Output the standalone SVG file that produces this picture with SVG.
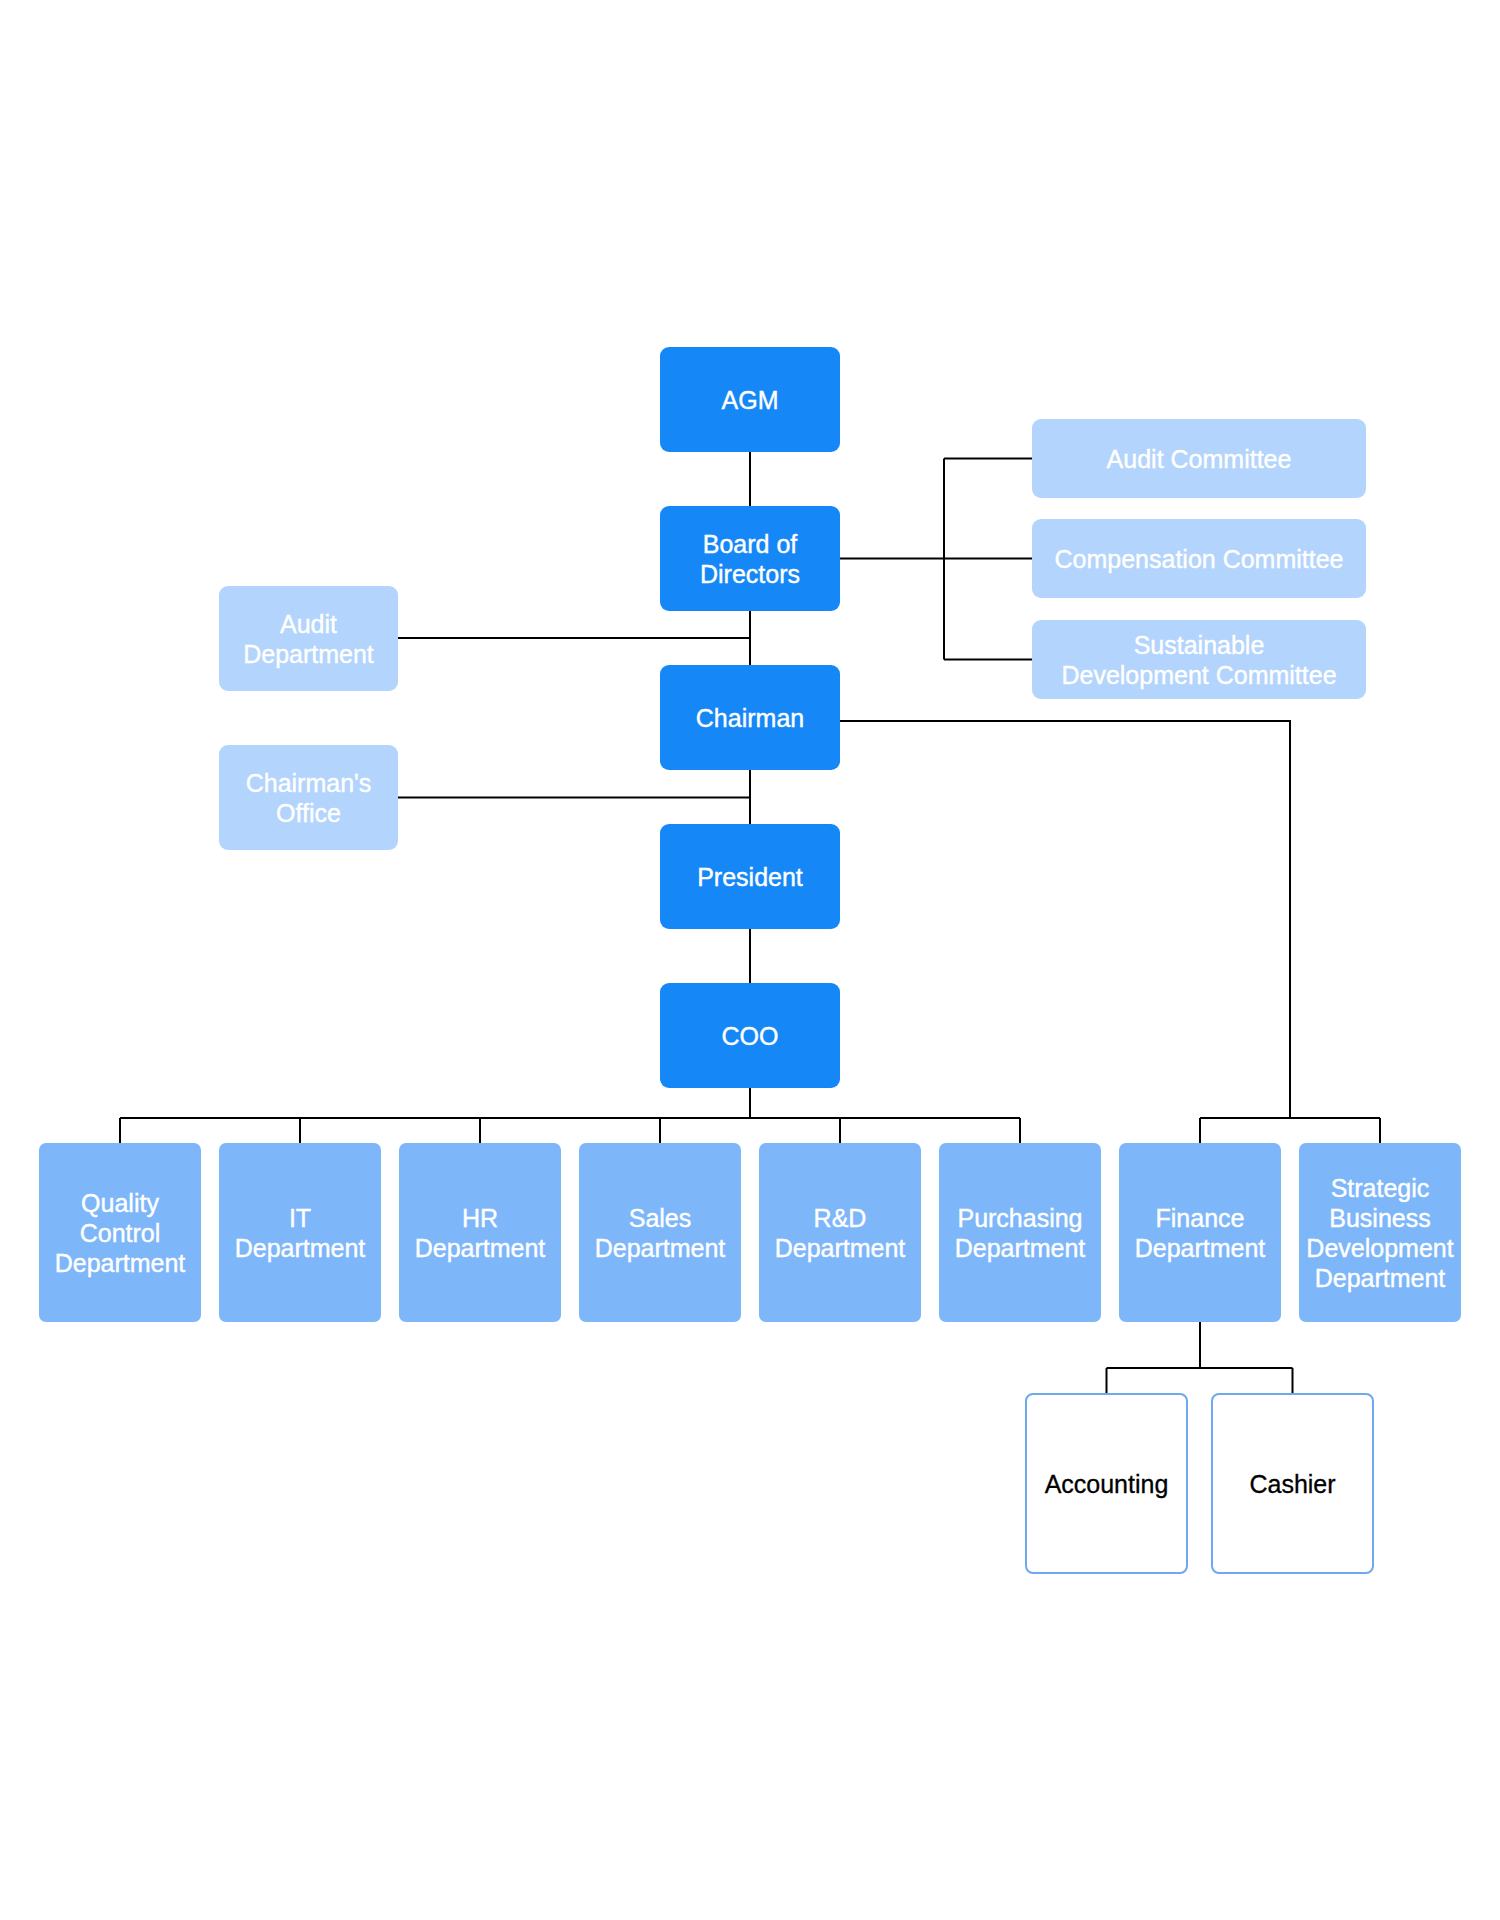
<svg xmlns="http://www.w3.org/2000/svg" width="1500" height="1920" viewBox="0 0 1500 1920">
<style>
text{font-family:"Liberation Sans",Arial,Helvetica,sans-serif;font-size:25px;text-anchor:middle;fill:#ffffff;stroke:#ffffff;stroke-width:0.4}
.dark{fill:#1587f7}
.light{fill:#b3d4fc}
.mid{fill:#7eb6fa}
.out{fill:#ffffff;stroke:#6fa8ec;stroke-width:2}
text.blk{fill:#000000;stroke:#000000;stroke-width:0.3}
#connectors path{fill:none;stroke:#000000;stroke-width:2}
</style>
<rect width="1500" height="1920" fill="#ffffff"/>
<g id="connectors">
<path d="M750 452V506M750 611V665M398 638H750M750 770V824M398 797.5H750M750 929V983"/>
<path d="M750 1088V1118M120 1118H1020M120 1118V1143M300 1118V1143M480 1118V1143M660 1118V1143M840 1118V1143M1020 1118V1143"/>
<path d="M840 558.5H944M944 458.5V659.5M944 458.5H1032M944 558.5H1032M944 659.5H1032"/>
<path d="M840 721H1290V1118M1200 1118H1380M1200 1118V1143M1380 1118V1143"/>
<path d="M1200 1322V1368M1106.5 1368H1292.5M1106.5 1368V1394M1292.5 1368V1394"/>
</g>
<g id="agm"><rect class="dark" x="660" y="347" width="180" height="105" rx="9"/><text x="750" y="408.5">AGM</text></g>
<g id="board"><rect class="dark" x="660" y="506" width="180" height="105" rx="9"/><text x="750" y="552.5">Board of</text><text x="750" y="582.5">Directors</text></g>
<g id="chairman"><rect class="dark" x="660" y="665" width="180" height="105" rx="9"/><text x="750" y="726.5">Chairman</text></g>
<g id="president"><rect class="dark" x="660" y="824" width="180" height="105" rx="9"/><text x="750" y="885.5">President</text></g>
<g id="coo"><rect class="dark" x="660" y="983" width="180" height="105" rx="9"/><text x="750" y="1044.5">COO</text></g>
<g id="audit-dept"><rect class="light" x="219" y="586" width="179" height="105" rx="9"/><text x="308.5" y="632.5">Audit</text><text x="308.5" y="662.5">Department</text></g>
<g id="chairmans-office"><rect class="light" x="219" y="745" width="179" height="105" rx="9"/><text x="308.5" y="791.5">Chairman's</text><text x="308.5" y="821.5">Office</text></g>
<g id="audit-committee"><rect class="light" x="1032" y="419" width="334" height="79" rx="9"/><text x="1199" y="467.5">Audit Committee</text></g>
<g id="compensation-committee"><rect class="light" x="1032" y="519" width="334" height="79" rx="9"/><text x="1199" y="567.5">Compensation Committee</text></g>
<g id="sustainable-committee"><rect class="light" x="1032" y="620" width="334" height="79" rx="9"/><text x="1199" y="653.5">Sustainable</text><text x="1199" y="683.5">Development Committee</text></g>
<g id="quality"><rect class="mid" x="39" y="1143" width="162" height="179" rx="7"/><text x="120" y="1211.5">Quality</text><text x="120" y="1241.5">Control</text><text x="120" y="1271.5">Department</text></g>
<g id="it"><rect class="mid" x="219" y="1143" width="162" height="179" rx="7"/><text x="300" y="1226.5">IT</text><text x="300" y="1256.5">Department</text></g>
<g id="hr"><rect class="mid" x="399" y="1143" width="162" height="179" rx="7"/><text x="480" y="1226.5">HR</text><text x="480" y="1256.5">Department</text></g>
<g id="sales"><rect class="mid" x="579" y="1143" width="162" height="179" rx="7"/><text x="660" y="1226.5">Sales</text><text x="660" y="1256.5">Department</text></g>
<g id="rd"><rect class="mid" x="759" y="1143" width="162" height="179" rx="7"/><text x="840" y="1226.5">R&amp;D</text><text x="840" y="1256.5">Department</text></g>
<g id="purchasing"><rect class="mid" x="939" y="1143" width="162" height="179" rx="7"/><text x="1020" y="1226.5">Purchasing</text><text x="1020" y="1256.5">Department</text></g>
<g id="finance"><rect class="mid" x="1119" y="1143" width="162" height="179" rx="7"/><text x="1200" y="1226.5">Finance</text><text x="1200" y="1256.5">Department</text></g>
<g id="strategic"><rect class="mid" x="1299" y="1143" width="162" height="179" rx="7"/><text x="1380" y="1196.5">Strategic</text><text x="1380" y="1226.5">Business</text><text x="1380" y="1256.5">Development</text><text x="1380" y="1286.5">Department</text></g>
<g id="accounting"><rect class="out" x="1026" y="1394" width="161" height="179" rx="7"/><text class="blk" x="1106.5" y="1492.5">Accounting</text></g>
<g id="cashier"><rect class="out" x="1212" y="1394" width="161" height="179" rx="7"/><text class="blk" x="1292.5" y="1492.5">Cashier</text></g>
</svg>
